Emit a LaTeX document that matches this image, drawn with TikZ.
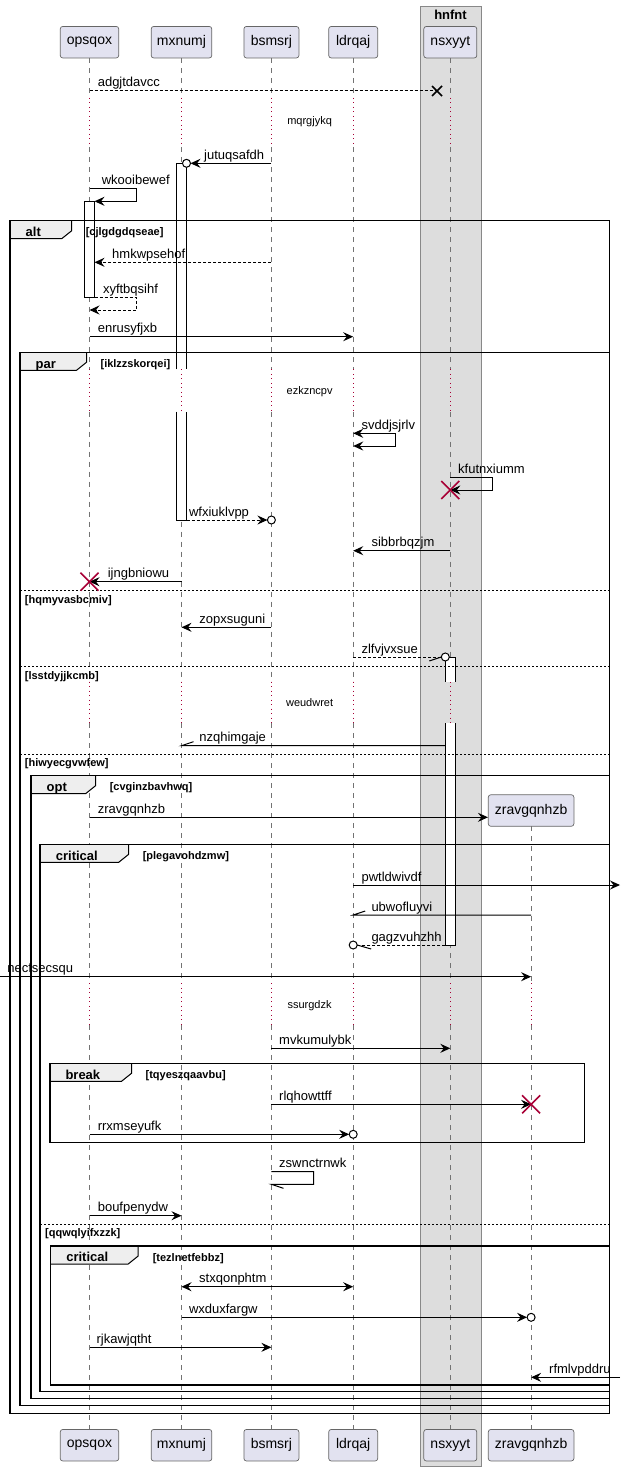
\documentclass[tikz,border=0pt]{standalone}
\usepackage{fontspec}
\setmainfont{Liberation Sans}
\usetikzlibrary{arrows.meta,calc}
\definecolor{partfill}{HTML}{E2E2F0}
\definecolor{grp}{HTML}{DDDDDD}
\definecolor{grpline}{HTML}{888888}
\definecolor{tabfill}{HTML}{EEEEEE}
\definecolor{dlyc}{HTML}{A80036}
\newcommand\grpframe[9]{%
  \fill[tabfill] (#1,#2) -- (#5,#2) -- (#5,#2+10) -- (#5-10,#2+18) -- (#1,#2+18) -- cycle;
  \draw[frm] (#1,#2) rectangle (#3,#4);
  \draw[line width=1pt] (#5,#2) -- (#5,#2+10) -- (#5-10,#2+18) -- (#1,#2+18);
  \node[tablbl] (#9t) at (#1+15.5,#2+15.7) {#6};
  \node[grdlbl] (#9g) at (#7,#2+15) {#8};
}
\begin{document}
\begin{tikzpicture}[x=1pt,y=-1pt,
  part/.style={draw=black!60, line width=0.7pt, fill=partfill, rounded corners=2.5pt, inner sep=0pt, minimum height=31.5pt, font=\fontsize{14}{16}\selectfont},
  life/.style={draw=black!55, line width=0.7pt, dash pattern=on 5pt off 5pt},
  dly/.style={draw=dlyc, line width=1pt, dash pattern=on 1pt off 3.5pt},
  tipk/.tip={Stealth[length=10pt,width=9pt,inset=3.5pt]},
  msg/.style={line width=1pt, -tipk},
  dsh/.style={dash pattern=on 3pt off 2pt},
  msglbl/.style={anchor=base west, inner sep=0pt, font=\fontsize{13}{15}\selectfont},
  dlylbl/.style={inner sep=0pt, font=\fontsize{11}{13}\selectfont},
  grdlbl/.style={anchor=base west, inner sep=0pt, font=\bfseries\fontsize{11}{13}\selectfont},
  tablbl/.style={anchor=base west, inner sep=0pt, font=\bfseries\fontsize{13}{15}\selectfont},
  frm/.style={draw=black, line width=1.5pt},
  sep/.style={draw=black, line width=1pt, dash pattern=on 2pt off 2pt},
  actb/.style={draw=black, line width=1pt},
  redx/.style={draw=dlyc, line width=1.6pt},
  circ/.style={draw=black, line width=1pt, fill=white}
]
\useasboundingbox (0,0) rectangle (625,1471);
% group box
\draw[fill=grp, draw=grpline, line width=1pt] (420,7) rectangle (481,1466.7);
\node[anchor=base, inner sep=0pt, font=\bfseries\fontsize{13}{15}\selectfont] (gt) at (450.5,19.8) {hnfnt};
% participants (heads)
\node[part, minimum width=58.5pt] (hA) at (89.5,42.2) {opsqox};
\node[part, minimum width=60.6pt] (hB) at (181.5,42.2) {mxnumj};
\node[part, minimum width=55pt] (hC) at (271.4,42.2) {bsmsrj};
\node[part, minimum width=49pt] (hD) at (353.2,42.2) {ldrqaj};
\node[part, minimum width=53pt] (hE) at (450.3,42.2) {nsxyyt};
\node[part, minimum width=85.6pt] (hF) at (531.1,810.5) {zravgqnhzb};
% lifelines
\foreach \n in {hA,hB,hC,hD,hE}{
  \foreach \a/\b in {58/98,147/369.3,411.7/681.7,723.3/983.3,1025/1429.5}
    \draw[life] (\n |- 0,\a) -- (\n |- 0,\b);
  \foreach \a/\b in {98/147,369.3/411.7,681.7/723.3,983.3/1025}
    \draw[dly] (\n |- 0,\a) -- (\n |- 0,\b);
}
\foreach \a/\b in {826.3/983.3,1025/1429.5}
  \draw[life] (hF |- 0,\a) -- (hF |- 0,\b);
\draw[dly] (hF |- 0,983.3) -- (hF |- 0,1025);
% delays text
\node[dlylbl] (d1) at (309.6,121.7) {mqrgjykq};
\node[dlylbl] (d2) at (309.6,391.2) {ezkzncpv};
\node[dlylbl] (d3) at (309.6,702.7) {weudwret};
\node[dlylbl] (d4) at (309.6,1005.5) {ssurgdzk};
% activations
\fill[white] (84.5,201.3) rectangle (94.5,297.5);
\draw[actb] (84.5,201.3) rectangle (94.5,297.5);
\fill[white] (176.5,163.3) rectangle (186.5,369.3);
\draw[actb] (176.5,369.3) -- (176.5,163.3) -- (186.5,163.3) -- (186.5,369.3);
\fill[white] (176.5,411.7) rectangle (186.5,520);
\draw[actb] (176.5,411.7) -- (176.5,520) -- (186.5,520) -- (186.5,411.7);
\fill[white] (445.3,657) rectangle (455.3,681.7);
\draw[actb] (445.3,681.7) -- (445.3,657) -- (455.3,657) -- (455.3,681.7);
\fill[white] (445.3,723.3) rectangle (455.3,945);
\draw[actb] (445.3,723.3) -- (445.3,945) -- (455.3,945) -- (455.3,723.3);
% frames
\grpframe{10}{220.7}{609.6}{1413.3}{71.7}{alt}{85.6}{[cjlgdgdqseae]}{fa}
\grpframe{20}{352.3}{609.6}{1405.7}{86.5}{par}{100.4}{[iklzzskorqei]}{fb}
\draw[sep] (20,590.3) -- (609.6,590.3);
\node[grdlbl] (e1) at (24.7,603) {[hqmyvasbcmiv]};
\draw[sep] (20,666) -- (609.6,666);
\node[grdlbl] (e2) at (24.7,679) {[lsstdyjjkcmb]};
\draw[sep] (20,754.3) -- (609.6,754.3);
\node[grdlbl] (e3) at (24.7,766.7) {[hiwyecgvwfew]};
\grpframe{31}{775.7}{609.6}{1398.3}{95.6}{opt}{109.6}{[cvginzbavhwq]}{fc}
\grpframe{40.2}{844.3}{609.6}{1391.7}{128.7}{critical}{142.6}{[plegavohdzmw]}{fd}
\grpframe{49.8}{1063.3}{584.5}{1142.3}{131.5}{break}{145.4}{[tqyeszqaavbu]}{fe}
\draw[sep] (40.2,1224) -- (609.6,1224);
\node[grdlbl] (e4) at (45,1236.7) {[qqwqlyifxzzk]};
\grpframe{50.6}{1246}{609.6}{1385}{138.2}{critical}{152.6}{[tezlnetfebbz]}{ff}
% messages
% 1
\coordinate (lost1) at (437,91);
\draw[line width=1pt,dsh] (hA |- 0,91) -- (lost1);
\draw[line width=1.6pt] (lost1) +(-5,-5) -- +(5,5) (lost1) +(-5,5) -- +(5,-5);
\node[msglbl] (m1) at (97.6,87) {adgjtdavcc};
% 2
\coordinate (c2) at ($(hB |- 0,163.3)+(5,0)$);
\draw[msg] (hC |- 0,163.3) -- ($(c2)+(4,0)$);
\draw[circ] (c2) circle (4);
\node[msglbl] (m2) at (204,159.3) {jutuqsafdh};
% 3
\draw[msg] (hA |- 0,188.3) -- (136.6,188.3) -- (136.6,201.3) -- ($(hA |- 0,201.3)+(5,0)$);
\node[msglbl] (m3) at (101.6,184.3) {wkooibewef};
% 4
\draw[msg,dsh] (hC |- 0,262.3) -- ($(hA |- 0,262.3)+(5,0)$);
\node[msglbl] (m4) at (112,258.3) {hmkwpsehof};
% 5
\draw[msg,dsh] ($(hA |- 0,297.3)+(5,0)$) -- (136.3,297.3) -- (136.3,310) -- (hA |- 0,310);
\node[msglbl] (m5) at (102.8,293.3) {xyftbqsihf};
% 6
\draw[msg] (hA |- 0,336.7) -- (hD |- 0,336.7);
\node[msglbl] (m6) at (97.6,332.7) {enrusyfjxb};
% 7
\draw[line width=1pt, tipk-tipk] (hD |- 0,433.3) -- (395,433.3) -- (395,446) -- (hD |- 0,446);
\node[msglbl] (m7) at (361.4,429.3) {svddjsjrlv};
% 8
\draw[msg] (hE |- 0,477.3) -- (492.4,477.3) -- (492.4,490) -- (hE |- 0,490);
\coordinate (x8) at (hE |- 0,490);
\draw[redx] (x8) +(-9,-9) -- +(9,9) (x8) +(-9,9) -- +(9,-9);
\node[msglbl] (m8) at (458,473.3) {kfutnxiumm};
% 9
\coordinate (c9) at (hC |- 0,520);
\draw[msg,dsh] ($(hB |- 0,520)+(5,0)$) -- ($(c9)+(-4,0)$);
\draw[circ] (c9) circle (4);
\node[msglbl] (m9) at (188.8,516) {wfxiuklvpp};
% 10
\draw[msg] (hE |- 0,550.7) -- (hD |- 0,550.7);
\node[msglbl] (m10) at (371.3,546.7) {sibbrbqzjm};
% 11
\draw[msg] (hB |- 0,581.7) -- (hA |- 0,581.7);
\coordinate (x11) at (hA |- 0,581.7);
\draw[redx] (x11) +(-9,-9) -- +(9,9) (x11) +(-9,9) -- +(9,-9);
\node[msglbl] (m11) at (107.6,577.7) {ijngbniowu};
% 12
\draw[msg] (hC |- 0,627.3) -- (hB |- 0,627.3);
\node[msglbl] (m12) at (199.2,623.3) {zopxsuguni};
% 13
\coordinate (c13) at ($(hE |- 0,657)+(-5,0)$);
\draw[line width=1pt,dsh] (hD |- 0,657) -- ($(c13)+(-4,0)$);
\draw[line width=1pt] ($(c13)+(-4,0)$) -- ++(-12,4);
\draw[circ] (c13) circle (4);
\node[msglbl] (m13) at (361.4,653) {zlfvjvxsue};
% 14
\draw[line width=1pt] ($(hE |- 0,745.7)+(-5,0)$) -- (hB |- 0,745.7) -- ++(12,-4);
\node[msglbl] (m14) at (199.2,741.7) {nzqhimgaje};
% 15
\draw[msg] (hA |- 0,817.3) -- (hF.west |- 0,817.3);
\node[msglbl] (m15) at (97.6,813.3) {zravgqnhzb};
% 16
\coordinate (rE1) at (620,885);
\draw[msg] (hD |- 0,885) -- (rE1);
\node[msglbl] (m16) at (361.4,881) {pwtldwivdf};
% 17
\draw[line width=1pt] (hF |- 0,915) -- (hD |- 0,915) -- ++(12,-4);
\node[msglbl] (m17) at (371.3,911) {ubwofluyvi};
% 18
\coordinate (c18) at (hD |- 0,945);
\draw[line width=1pt,dsh] ($(hE |- 0,945)+(-5,0)$) -- ($(c18)+(4,0)$);
\draw[line width=1pt] ($(c18)+(4,0)$) -- ++(14,4);
\draw[circ] (c18) circle (4);
\node[msglbl] (m18) at (371.3,941) {gagzvuhzhh};
% 19
\coordinate (lE1) at (0,976.7);
\draw[msg] (lE1) -- (hF |- 0,976.7);
\node[msglbl] (m19) at (7.2,972.7) {necfsecsqu};
% 20
\draw[msg] (hC |- 0,1048.3) -- (hE |- 0,1048.3);
\node[msglbl] (m20) at (279,1044.3) {mvkumulybk};
% 21
\draw[msg] (hC |- 0,1104.3) -- (hF |- 0,1104.3);
\coordinate (x21) at (hF |- 0,1104.3);
\draw[redx] (x21) +(-9,-9) -- +(9,9) (x21) +(-9,9) -- +(9,-9);
\node[msglbl] (m21) at (279,1100.3) {rlqhowttff};
% 22
\coordinate (c22) at (hD |- 0,1134.3);
\draw[msg] (hA |- 0,1134.3) -- ($(c22)+(-4,0)$);
\draw[circ] (c22) circle (4);
\node[msglbl] (m22) at (97.6,1130.3) {rrxmseyufk};
% 23
\draw[line width=1pt] (hC |- 0,1171.7) -- (313.5,1171.7) -- (313.5,1184.3) -- (hC |- 0,1184.3) -- ++(12,4);
\node[msglbl] (m23) at (279,1167.7) {zswnctrnwk};
% 24
\draw[msg] (hA |- 0,1215.7) -- (hB |- 0,1215.7);
\node[msglbl] (m24) at (97.6,1211.7) {boufpenydw};
% 25
\draw[line width=1pt, tipk-tipk] (hB |- 0,1286.7) -- (hD |- 0,1286.7);
\node[msglbl] (m25) at (199,1282.7) {stxqonphtm};
% 26
\coordinate (c26) at (hF |- 0,1317.3);
\draw[msg] (hB |- 0,1317.3) -- ($(c26)+(-4,0)$);
\draw[circ] (c26) circle (4);
\node[msglbl] (m26) at (188.8,1313.3) {wxduxfargw};
% 27
\draw[msg] (hA |- 0,1347.3) -- (hC |- 0,1347.3);
\node[msglbl] (m27) at (96.4,1343.3) {rjkawjqtht};
% 28
\coordinate (rE2) at (620,1377.3);
\draw[msg] (rE2) -- (hF |- 0,1377.3);
\node[msglbl] (m28) at (549,1373.3) {rfmlvpddru};
% feet
\node[part, minimum width=58.5pt] (fA) at (89.5,1445.2) {opsqox};
\node[part, minimum width=60.6pt] (fB) at (181.5,1445.2) {mxnumj};
\node[part, minimum width=55pt] (fC) at (271.4,1445.2) {bsmsrj};
\node[part, minimum width=49pt] (fD) at (353.2,1445.2) {ldrqaj};
\node[part, minimum width=53pt] (fE) at (450.3,1445.2) {nsxyyt};
\node[part, minimum width=85.6pt] (fF) at (531.1,1445.2) {zravgqnhzb};
\end{tikzpicture}
\end{document}
